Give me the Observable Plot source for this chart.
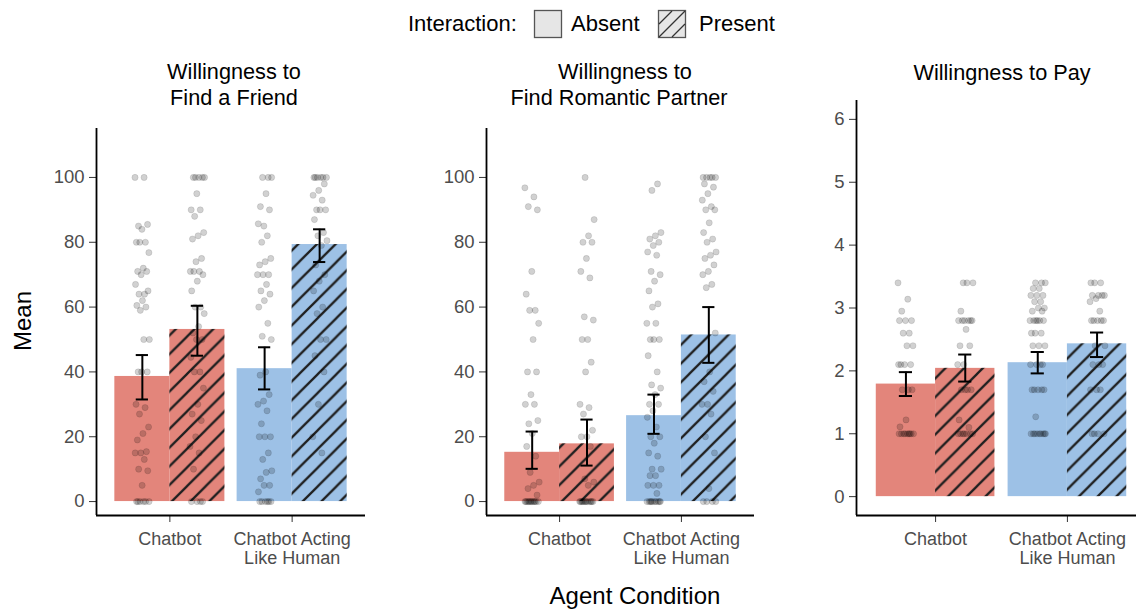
<!DOCTYPE html>
<html><head><meta charset="utf-8">
<script src="https://cdn.jsdelivr.net/npm/d3@7"></script>
<script src="https://cdn.jsdelivr.net/npm/@observablehq/plot@0.6"></script>
<style>
html,body{margin:0;padding:0;background:#fff;}
#root{position:relative;width:1136px;height:610px;overflow:hidden;font-family:"Liberation Sans",Arial,sans-serif;}
#root svg.pnl{position:absolute;top:0;}
#root g[aria-label$="tick label"]{fill:#4d4d4d;}
#root g[aria-label$="-axis tick"]{stroke:#333;}
#overlay{position:absolute;left:0;top:0;pointer-events:none;}
#overlay text{font-family:"Liberation Sans",Arial,sans-serif;}
</style></head><body><div id="root"></div>
<script>
const categories = ["Chatbot", "Chatbot Acting\nLike Human"];
const interactions = ["Absent", "Present"];
const legendTitle = "Interaction:";
const titles = [["Willingness to", "Find a Friend"], ["Willingness to", "Find Romantic Partner"], ["Willingness to Pay"]];
const yLabel = "Mean";
const xLabel = "Agent Condition";
const pctTicks = [0, 20, 40, 60, 80, 100];
const payTicks = [0, 1, 2, 3, 4, 5, 6];

// group order: Chatbot/Absent, Chatbot/Present, Acting/Absent, Acting/Present
const friendMean = [38.6, 53.1, 41.0, 79.3];
const friendLow  = [31.5, 45.0, 34.6, 73.9];
const friendHigh = [45.2, 60.4, 47.6, 84.0];
const romanceMean = [15.2, 17.8, 26.5, 51.4];
const romanceLow  = [10.1, 11.1, 20.9, 42.8];
const romanceHigh = [21.6, 25.3, 33.0, 60.0];
const payMean = [1.79, 2.04, 2.13, 2.43];
const payLow  = [1.60, 1.83, 1.96, 2.22];
const payHigh = [1.98, 2.26, 2.30, 2.61];

const friendPoints = [
  [100,100,85,85.5,84,80,80,80,76.8,72,71,71,70,67,64,64,65,62,60.5,60,59,50,50,40,40,40,30,29,27,23,21,19,15.4,15,15,13,10,9.5,5,0,0,0,0,0,0],
  [100,100,100,100,100,95,90,90,88,83,82,81,75,74,71,71,71,70,68,65,60,60,58,54,52,50,50,44.5,40,40,35,30,27,25,20,17,15,10,0,0,0,0],
  [100,100,100,95,91,90,85,85.7,82,80,75,74,73,70,70,70,67,65,64,62,60,55,51,50,40,39,33,31,30,28,24,20,20,20,15,13,9.5,9,7,5,5,3,0,0,0,0,0,0],
  [100,100,100,100,100,100,98,96,94.5,93,90,90,90,87,83,82,80.5,79,73,70,68,65,60,58,50,50,45,40,30,20,15]
];
const romancePoints = [
  [96.8,94,91,90,71,64,59,59,55,50,40,40,33,30,30,24,25,21,17,14,9,6,5,4,2,0,0,0,0,0,0,0,0,0,0,0,0],
  [100,87,82,80,80,75,71,69,57,56,50,50,43,40,30,29,27,22,20,20,17,7,6,5,0,0,0,0,0,0,0,0,0,0,0,0],
  [98,96,83,82,81,80,79,77,76,71,70,68,65,61,60,55,55,50,50,50,45,40,36,35,33,30,30,28,26,23,20,20,18,15,14,10,10,8,8,5,5,5,2.5,0,0,0,0,0,0,0,0,0,0],
  [100,100,100,100,100,98,97,95,93,91,90,90,86,83,81,80,77,76,75,73,71,70,67,66,52,40,37,34,30,30,27,20,15,4,0,0,0,0]
];
const payPoints = [
  [3.4,3.14,2.95,2.8,2.8,2.8,2.6,2.6,2.4,2.4,2.1,2.1,2.1,2.1,1.7,1.7,1.7,1.22,1.11,1,1,1,1,1,1,1,1,1],
  [3.4,3.4,3.4,2.95,2.8,2.8,2.8,2.8,2.8,2.8,2.66,2.4,2.4,2.1,2.1,1.7,1.7,1.7,1.7,1.22,1.1,1,1,1,1,1,1,1],
  [3.4,3.4,3.4,3.31,3.31,3.2,3.2,3.2,3.1,3.1,3.0,3.0,2.95,2.95,2.8,2.8,2.8,2.8,2.8,2.8,2.6,2.6,2.6,2.4,2.4,2.4,2.1,2.1,2.1,2.1,1.7,1.7,1.7,1.7,1.7,1.27,1,1,1,1,1,1,1,1,1],
  [3.4,3.4,3.4,3.2,3.2,3.2,3.2,3.15,3.1,2.95,2.8,2.8,2.8,2.8,2.8,2.4,2.4,2.1,2.1,2.1,1.7,1.7,1.7,1,1,1,1]
];

const RED = "#E3857B";
const BLUE = "#9DC1E6";
const root = document.getElementById("root");
const NS = "http://www.w3.org/2000/svg";

function jitter(j, g) {
  const f = ((j * 0.6180339887 + g * 0.37) % 1);
  return (f - 0.5) * 2 * 0.06;
}

function addHatch(svg, id) {
  const s = 18.7;
  const defs = document.createElementNS(NS, "defs");
  const p = document.createElementNS(NS, "pattern");
  p.setAttribute("id", id);
  p.setAttribute("patternUnits", "userSpaceOnUse");
  p.setAttribute("width", s);
  p.setAttribute("height", s);
  const path = document.createElementNS(NS, "path");
  path.setAttribute("d", `M-3,3 L3,-3 M0,${s} L${s},0 M${s-3},${s+3} L${s+3},${s-3}`);
  path.setAttribute("stroke", "#1f1f1f");
  path.setAttribute("stroke-width", "2.3");
  path.setAttribute("fill", "none");
  p.appendChild(path);
  defs.appendChild(p);
  svg.insertBefore(defs, svg.firstChild);
}

function panel(cfg) {
  const groups = [0, 1, 2, 3].map(g => {
    const cat = Math.floor(g / 2) + 1, inter = g % 2;
    const x1 = cat - 0.45 + inter * 0.45;
    return {g, cat, inter, x1, x2: x1 + 0.45, xc: x1 + 0.225,
      mean: cfg.mean[g], lo: cfg.low[g], hi: cfg.high[g]};
  });
  const pts = [];
  cfg.points.forEach((vals, g) => vals.forEach((v, j) => pts.push({x: groups[g].xc + jitter(j, g), y: v})));
  const [y0, y1] = cfg.yDomain;
  const chart = Plot.plot({
    width: cfg.width, height: 610,
    marginLeft: cfg.marginLeft, marginRight: cfg.marginRight,
    marginTop: cfg.marginTop, marginBottom: 95,
    x: {domain: [0.4, 2.6]},
    y: {domain: cfg.yDomain},
    style: {fontFamily: "Liberation Sans, Arial, sans-serif", background: "transparent", overflow: "visible"},
    marks: [
      Plot.rect(groups.filter(d => d.cat === 1), {x1: "x1", x2: "x2", y1: () => 0, y2: "mean", fill: RED}),
      Plot.rect(groups.filter(d => d.cat === 2), {x1: "x1", x2: "x2", y1: () => 0, y2: "mean", fill: BLUE}),
      Plot.rect(groups.filter(d => d.inter === 1), {x1: "x1", x2: "x2", y1: () => 0, y2: "mean", fill: `url(#${cfg.id})`}),
      Plot.dot(pts, {x: "x", y: "y", r: 3.1, fill: "black", fillOpacity: 0.18, stroke: "black", strokeOpacity: 0.13, strokeWidth: 0.8}),
      Plot.ruleX(groups, {x: "xc", y1: "lo", y2: "hi", stroke: "black", strokeWidth: 2}),
      Plot.ruleY(groups, {y: "lo", x1: d => d.xc - 0.05, x2: d => d.xc + 0.05, stroke: "black", strokeWidth: 2}),
      Plot.ruleY(groups, {y: "hi", x1: d => d.xc - 0.05, x2: d => d.xc + 0.05, stroke: "black", strokeWidth: 2}),
      Plot.axisY({ticks: cfg.yTicks, tickFormat: d => String(d), tickSize: 7, tickPadding: 5, fontSize: 18.5, label: null}),
      Plot.axisX({ticks: [1, 2], tickFormat: d => categories[d - 1], tickSize: 7, tickPadding: 9, fontSize: 18, lineHeight: 1.07, label: null}),
      Plot.ruleX([0.4], {y1: y0, y2: y1, stroke: "black", strokeWidth: 1.8}),
      Plot.ruleY([y0], {x1: 0.4, x2: 2.6, stroke: "black", strokeWidth: 1.8})
    ]
  });
  addHatch(chart, cfg.id);
  chart.classList.add("pnl");
  chart.style.left = cfg.left + "px";
  root.appendChild(chart);
}

panel({id: "hatchA", left: 0, width: 385, marginLeft: 96, marginRight: 20, marginTop: 128,
  yDomain: [-4.3, 115.1], yTicks: pctTicks, mean: friendMean, low: friendLow, high: friendHigh, points: friendPoints});
panel({id: "hatchB", left: 390, width: 384, marginLeft: 96, marginRight: 20, marginTop: 128,
  yDomain: [-4.3, 115.1], yTicks: pctTicks, mean: romanceMean, low: romanceLow, high: romanceHigh, points: romancePoints});
panel({id: "hatchC", left: 790, width: 376, marginLeft: 66, marginRight: 20, marginTop: 100,
  yDomain: [-0.3, 6.3], yTicks: payTicks, mean: payMean, low: payLow, high: payHigh, points: payPoints});

// overlay: legend, panel titles, axis titles
const ov = document.createElementNS(NS, "svg");
ov.setAttribute("id", "overlay");
ov.setAttribute("width", 1136);
ov.setAttribute("height", 610);
function txt(s, x, y, size, anchor, fill, extra) {
  const t = document.createElementNS(NS, "text");
  t.textContent = s;
  t.setAttribute("x", x); t.setAttribute("y", y);
  t.setAttribute("font-size", size);
  t.setAttribute("text-anchor", anchor);
  t.setAttribute("fill", fill);
  if (extra) for (const k in extra) t.setAttribute(k, extra[k]);
  ov.appendChild(t);
  return t;
}
function el(tag, attrs) {
  const e = document.createElementNS(NS, tag);
  for (const k in attrs) e.setAttribute(k, attrs[k]);
  ov.appendChild(e);
  return e;
}
txt(legendTitle, 408, 31, 22, "start", "#000");
el("rect", {x: 534.5, y: 10.5, width: 27, height: 27, fill: "#e6e6e6", stroke: "#555", "stroke-width": 1.3});
txt(interactions[0], 571, 31, 22, "start", "#000");
el("rect", {x: 658.5, y: 10.5, width: 27, height: 27, fill: "#e6e6e6", stroke: "#555", "stroke-width": 1.3});
el("path", {d: "M659,24 L672,11 M659,37 L685,11 M672,37 L685,24", stroke: "#333", "stroke-width": 1.3, fill: "none"});
txt(interactions[1], 699, 31, 22, "start", "#000");

txt(titles[0][0], 234, 79, 21.7, "middle", "#000");
txt(titles[0][1], 234, 105, 21.7, "middle", "#000");
txt(titles[1][0], 625, 79, 21.7, "middle", "#000");
txt(titles[1][1], 619, 105, 21.7, "middle", "#000");
txt(titles[2][0], 1002, 80, 21.7, "middle", "#000");

txt(yLabel, 0, 0, 24, "middle", "#000", {transform: "translate(31,321) rotate(-90)"});
txt(xLabel, 635, 604, 24, "middle", "#000");
root.appendChild(ov);
</script></body></html>
